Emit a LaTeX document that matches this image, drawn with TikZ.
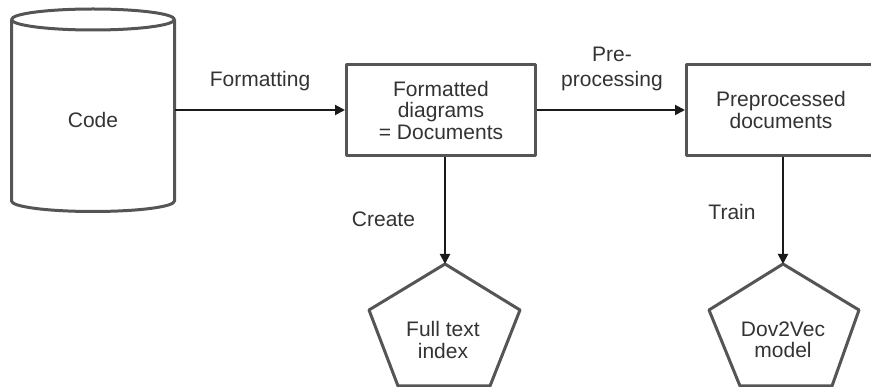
\documentclass[tikz,border=0pt]{standalone}
\usepackage{fontspec}
\setmainfont{Liberation Sans}
\usetikzlibrary{arrows.meta}
\definecolor{edgegray}{HTML}{555555}
\definecolor{inkgray}{HTML}{333333}
\definecolor{wiregray}{HTML}{1A1A1A}
\begin{document}
\begin{tikzpicture}[x=1pt,y=-1pt,
  outline/.style={draw=edgegray, line width=3pt, line join=round},
  edgetext/.style={font=\fontsize{21}{25}\selectfont, text=inkgray, inner sep=0pt},
  shapetext/.style={font=\fontsize{21}{21.5}\selectfont, text=inkgray, inner sep=0pt, align=center},
  stepbox/.style={outline, fill=white, shapetext, minimum width=189pt, minimum height=91pt},
  wire/.style={draw=wiregray, line width=2pt, -{Triangle[length=10pt,width=10pt]}}
]
\useasboundingbox (0,0) rectangle (871,387);

% source cylinder
\draw[outline] (11.5,19.5) -- (11.5,201)
  arc[start angle=180, end angle=0, x radius=81.5, y radius=10.5] -- (174.5,19.5);
\draw[outline] (93,19.5) ellipse[x radius=81.5, y radius=10.5];
\coordinate (code-east) at (174.5,110);
\node[shapetext] (code) at (93,120) {Code};

% processing steps
\node[stepbox] (fmt) at (441,110) {Formatted\\diagrams\\= Documents};
\node[stepbox] (pre) at (781,110) {Preprocessed\\documents};

% outputs (pentagons)
\coordinate (fti-top) at (445,264);
\draw[outline] (fti-top) -- (520,310) -- (490,386) -- (398,386) -- (369,310) -- cycle;
\node[shapetext] (fti) at (443,340) {Full text\\index};

\coordinate (dvm-top) at (783,264);
\draw[outline] (dvm-top) -- (859,310) -- (832,386) -- (740,386) -- (709,310) -- cycle;
\node[shapetext] (dvm) at (783,340) {Dov2Vec\\model};

% connectors
\draw[wire] (code-east) -- (fmt.west);
\draw[wire] (fmt.east) -- (pre.west);
\draw[wire] (fmt.south -| fti-top) -- (fti-top);
\draw[wire] (pre.south -| dvm-top) -- (dvm-top);

% connector labels
\node[edgetext, anchor=base] (lbl-fmt) at (260,87) {Formatting};
\node[edgetext, align=center] (lbl-pre) at (612,69) {Pre-\\processing};
\node[edgetext, anchor=base] (lbl-create) at (383.5,227) {Create};
\node[edgetext, anchor=base] (lbl-train) at (732,220) {Train};
\end{tikzpicture}
\end{document}
